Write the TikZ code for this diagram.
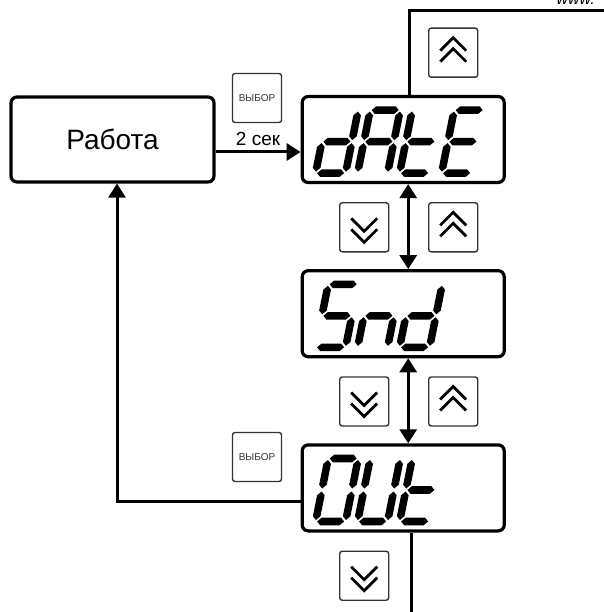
\documentclass[tikz,border=0pt]{standalone}
\usepackage{fontspec}
\setmainfont{Liberation Sans}
\usetikzlibrary{arrows.meta,positioning,calc}

% seven-segment pieces (local units, digit 30 x 63, y up)
\newcommand{\hseg}[1]{\fill (1.5,#1) -- (5.3,#1+3.8) -- (24.7,#1+3.8) -- (28.5,#1) -- (24.7,#1-3.8) -- (5.3,#1-3.8) -- cycle;}
\newcommand{\vseg}[2]{\fill (#1,#2+1.5) -- (#1+3.8,#2+5.3) -- (#1+3.8,#2+26.2) -- (#1,#2+30) -- (#1-3.8,#2+26.2) -- (#1-3.8,#2+5.3) -- cycle;}
\newcommand{\sega}{\hseg{63}}
\newcommand{\segb}{\vseg{30}{31.5}}
\newcommand{\segc}{\vseg{30}{0}}
\newcommand{\segd}{\hseg{0}}
\newcommand{\sege}{\vseg{0}{0}}
\newcommand{\segf}{\vseg{0}{31.5}}
\newcommand{\segg}{\hseg{31.5}}
\newcommand{\lcdword}[2]{%
  \foreach \segs [count=\k] in {#2} {
    \begin{scope}[shift={($(#1.south west)+(42*\k-27,-11)$)}, y=1pt, xslant=0.2]
      \foreach \s in \segs {\csname seg\s\endcsname}
    \end{scope}
  }}

\tikzset{
  upicon/.pic={\draw[chev] (-13,-2) -- (0,-15) -- (13,-2); \draw[chev] (-13,9) -- (0,-4) -- (13,9);},
  downicon/.pic={\draw[chev] (-13,-9) -- (0,4) -- (13,-9); \draw[chev] (-13,2) -- (0,15) -- (13,2);}
}

\begin{document}
\begin{tikzpicture}[
    x=1pt, y=-1pt,
    font=\fontsize{28}{32}\selectfont,
    node distance=85pt and 85pt,
    disp/.style={draw, line width=3.2pt, rounded corners=6pt, minimum width=202pt, minimum height=86pt, inner sep=0pt},
    box/.style={disp, minimum width=203pt, minimum height=85pt},
    btn/.style={draw=black!80, line width=1.4pt, rounded corners=2.5pt, minimum size=49pt, inner sep=0pt},
    chev/.style={line width=2.8pt},
    arr/.style={-{Triangle[length=14pt,width=17pt]}, line width=3pt},
    darr/.style={{Triangle[length=14pt,width=17pt]}-{Triangle[length=14pt,width=17pt]}, line width=3pt},
    wire/.style={line width=3pt}
]
\useasboundingbox (0,0) rectangle (603,612);

\node[anchor=base west, font=\itshape\fontsize{16}{18}\selectfont] (web) at (553,4.5) {www.};

\node[box] (work) at (112.5,139.5) {Работа};
\node[disp, right=of work] (date) {};
\node[disp, below=of date] (snd) {};
\node[disp, below=of snd] (out) {};

\lcdword{date}{{b,c,d,e,g},{a,b,c,e,f,g},{d,e,f,g},{a,d,e,f,g}}
\lcdword{snd}{{a,f,g,c,d},{c,e,g},{b,c,d,e,g}}
\lcdword{out}{{a,b,c,d,e,f},{b,c,d,e,f},{d,e,f,g}}

\node[btn, above=17pt of date, xshift=50pt] (up0) {};
\node[btn, below=18pt of date, xshift=-39pt] (dn1) {};
\node[btn, below=18pt of date, xshift=50pt] (up1) {};
\node[btn, below=18pt of snd, xshift=-39pt] (dn2) {};
\node[btn, below=18pt of snd, xshift=50pt] (up2) {};
\node[btn, below=18pt of out, xshift=-39pt] (dn3) {};
\pic at (up0) {upicon};
\pic at (dn1) {downicon};
\pic at (up1) {upicon};
\pic at (dn2) {downicon};
\pic at (up2) {upicon};
\pic at (dn3) {downicon};

\node[btn, font=\fontsize{10}{12}\selectfont, text=black!80] (sel1) at (257,98) {ВЫБОР};
\node[btn, font=\fontsize{10}{12}\selectfont, text=black!80] (sel2) at (257,457) {ВЫБОР};

\draw[arr] ([yshift=-12.5pt]work.east) -- node[above=1pt, font=\fontsize{19}{21}\selectfont] (hold) {2 сек} ([yshift=-12.5pt]date.west);
\draw[darr] ([xshift=5pt]date.south) -- ([xshift=5pt]snd.north);
\draw[darr] ([xshift=5pt]snd.south) -- ([xshift=5pt]out.north);
\draw[arr] ([yshift=-14pt]out.west) -| ([xshift=4.5pt]work.south);

\coordinate (topturn) at (409,11);
\coordinate (topend) at (610,11);
\draw[wire] (date.north -| topturn) -- (topturn) -- (topend);
\coordinate (botend) at (411,615);
\draw[wire] (out.south -| botend) -- (botend);

\end{tikzpicture}
\end{document}
